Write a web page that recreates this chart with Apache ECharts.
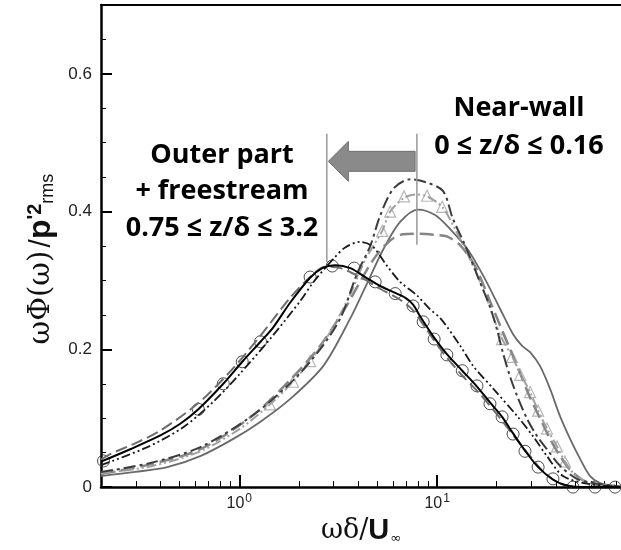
<!DOCTYPE html>
<html>
<head>
<meta charset="utf-8">
<script src="https://cdn.jsdelivr.net/npm/echarts@6/dist/echarts.min.js"></script>
<style>
  html, body { margin: 0; padding: 0; background: #fff; }
  #main { width: 621px; height: 550px; }
</style>
</head>
<body>
<div id="main"></div>
<script>
// [omega*delta/U, value] pairs
var outerSolid = [[0.2,0.037],[0.281,0.055],[0.399,0.075],[0.503,0.092],[0.621,0.113],[0.83,0.15],[1.035,0.182],[1.28,0.211],[1.485,0.232],[1.81,0.268],[2.28,0.304],[2.63,0.318],[3.05,0.322],[3.64,0.318],[4.33,0.305],[5.15,0.292],[6.14,0.282],[6.89,0.275],[7.56,0.265],[8.2,0.248],[9.66,0.217],[11.2,0.193],[13.4,0.169],[15.9,0.146],[18.5,0.123],[21.3,0.102],[24.2,0.078],[27.8,0.053],[32.4,0.029],[38.5,0.011],[44.3,0.003],[52.8,0],[84,0]];
var outerCircles = [[0.206,0.038],[0.621,0.113],[0.83,0.15],[1.035,0.182],[1.28,0.211],[2.28,0.305],[2.95,0.321],[3.81,0.318],[4.86,0.298],[6.14,0.281],[7.56,0.263],[8.5,0.24],[9.66,0.215],[11.2,0.192],[13.4,0.169],[15.9,0.147],[18.5,0.121],[21.3,0.102],[24.2,0.077],[27.8,0.052],[32.4,0.029],[38.5,0.012],[48.6,0],[62.8,0],[79.3,0]];
var outerDashDotDot = [[0.2,0.032],[0.343,0.058],[0.521,0.087],[0.739,0.124],[1.01,0.165],[1.43,0.215],[2.03,0.27],[2.36,0.297],[2.98,0.331],[3.43,0.348],[4.08,0.356],[4.7,0.35],[5.59,0.321],[6.5,0.298],[7.93,0.278],[9.22,0.258],[10.4,0.245],[13.1,0.205],[15.2,0.176],[19.2,0.143],[25.4,0.103],[30.5,0.074],[35.9,0.045],[43.3,0.016],[57.2,0.005],[84,0]];
var outerGrayDash = [[0.2,0.04],[0.223,0.048],[0.305,0.065],[0.399,0.082],[0.621,0.122],[0.901,0.168],[1.28,0.22],[1.81,0.275],[2.28,0.305],[2.72,0.32],[3.24,0.318],[4.08,0.305],[5.15,0.288],[6.5,0.272],[7.48,0.258],[8.7,0.232],[10.4,0.2],[13.1,0.165],[16.5,0.135],[20.8,0.1],[24.8,0.072],[29.5,0.045],[35.1,0.02],[41.8,0.005],[52.8,0],[84,0]];

var nearDashDot = [[0.2,0.022],[0.355,0.035],[0.635,0.058],[1.18,0.105],[1.87,0.155],[2.56,0.2],[3.24,0.245],[3.94,0.31],[4.59,0.35],[5.15,0.394],[6.0,0.433],[7.31,0.447],[8.7,0.443],[10.7,0.43],[12.0,0.39],[13.9,0.35],[16.5,0.297],[18.5,0.262],[20.1,0.228],[21.5,0.195],[23.4,0.16],[25.4,0.132],[28.5,0.099],[32.0,0.074],[35.9,0.055],[41.8,0.031],[50.9,0.012],[61.4,0.006],[84,0.001]];
var nearTriLine = [[0.2,0.02],[0.355,0.03],[0.635,0.052],[1.01,0.085],[1.43,0.12],[1.87,0.153],[2.28,0.183],[2.88,0.225],[3.64,0.28],[4.33,0.33],[5.28,0.372],[5.79,0.4],[6.81,0.42],[7.74,0.425],[8.9,0.422],[10.6,0.407],[12.3,0.375],[14.7,0.33],[17.5,0.28],[19.6,0.24],[21.3,0.215],[23.9,0.19],[26.3,0.165],[29.5,0.138],[32.4,0.111],[35.9,0.085],[40.4,0.059],[44.3,0.037],[49.8,0.018],[59.3,0.006],[84,0.001]];
var nearTriangles = [[1.43,0.12],[1.87,0.153],[2.28,0.183],[5.28,0.372],[5.79,0.4],[6.81,0.422],[8.9,0.423],[10.6,0.407],[21.3,0.215],[23.9,0.189],[26.3,0.163],[29.5,0.138],[32.4,0.111],[35.9,0.085],[40.4,0.059],[44.3,0.037]];
var nearSolid = [[0.2,0.016],[0.298,0.022],[0.433,0.029],[0.635,0.045],[0.933,0.07],[1.28,0.095],[1.81,0.128],[2.66,0.176],[3.64,0.245],[4.33,0.29],[5.34,0.345],[6.5,0.385],[8.02,0.403],[9.77,0.395],[11.6,0.375],[14.2,0.346],[17.1,0.307],[20.8,0.259],[24.2,0.222],[26.9,0.205],[29.5,0.196],[33.1,0.176],[37.2,0.143],[41.8,0.103],[47.0,0.07],[52.8,0.041],[59.3,0.016],[66.6,0.006],[79.3,0.002]];
var nearDash = [[0.2,0.019],[0.355,0.033],[0.635,0.055],[1.18,0.105],[1.87,0.16],[2.56,0.205],[3.43,0.26],[4.75,0.33],[5.79,0.358],[6.73,0.367],[8.2,0.368],[10.0,0.366],[11.2,0.364],[13.1,0.351],[15.6,0.32],[18.5,0.27],[20.8,0.235],[23.4,0.2],[26.3,0.165],[29.5,0.13],[33.1,0.1],[37.2,0.07],[41.8,0.045],[47.0,0.025],[55.9,0.008],[66.6,0.002]];

// annotation: vertical markers [x, yBottom, yTop] and arrow [from, to, y]
var markerLines = [[2.77,0.327,0.513],[7.9,0.352,0.513]];
var arrow = [[7.74,2.82,0.473]];

var xRange = [0.2, 85];
var xMajor = [1, 10];
var xMinor = [0.3,0.4,0.5,0.6,0.7,0.8,0.9,2,3,4,5,6,7,8,9,20,30,40,50,60,70,80];
var yMajor = [0, 0.2, 0.4, 0.6];

function lg(pts) {
  return pts.map(function (p) { return [Math.log10(p[0]), p[1]]; });
}

var chart = echarts.init(document.getElementById('main'));

function lineSeries(pts, color, width, type) {
  return {
    type: 'line', data: lg(pts), smooth: 0.3, symbol: 'none',
    lineStyle: { color: color, width: width, type: type }
  };
}

var verticals = markerLines.map(function (m) {
  return {
    type: 'line', symbol: 'none',
    data: [[Math.log10(m[0]), m[1]], [Math.log10(m[0]), m[2]]],
    lineStyle: { color: '#999', width: 1.5 }
  };
});

var annFont = 'bold 27px "Open Sans"';

var option = {
  animation: false,
  grid: { left: 101, right: 0, top: 5, bottom: 62 },
  xAxis: [
    {
      type: 'value', min: Math.log10(xRange[0]), max: Math.log10(xRange[1]),
      position: 'bottom',
      splitLine: { show: false },
      axisLine: { onZero: false, lineStyle: { color: '#000', width: 2.5 } },
      axisTick: { inside: true, length: 12, customValues: xMajor.map(Math.log10), lineStyle: { color: '#000', width: 2 } },
      axisLabel: {
        customValues: xMajor.map(Math.log10), margin: 6,
        formatter: function (v) { return '{b|10}{s|' + Math.round(v) + '}'; },
        rich: {
          b: { fontFamily: 'Liberation Sans', fontSize: 16, color: '#222' },
          s: { fontFamily: 'Liberation Sans', fontSize: 12, color: '#222', verticalAlign: 'top', padding: [0, 0, 8, 1] }
        }
      },
      name: '{g|ωδ/}{u|U}{i|∞}', nameLocation: 'middle', nameGap: 26,
      nameTextStyle: {
        rich: {
          g: { fontFamily: 'DejaVu Serif', fontSize: 27, color: '#111' },
          u: { fontFamily: 'Liberation Sans', fontWeight: 'bold', fontSize: 29, color: '#111' },
          i: { fontFamily: 'DejaVu Sans', fontSize: 13, color: '#111', verticalAlign: 'bottom', padding: [14, 0, 0, 1] }
        }
      }
    },
    {
      type: 'value', min: Math.log10(xRange[0]), max: Math.log10(xRange[1]),
      position: 'bottom', splitLine: { show: false },
      axisLine: { show: false, onZero: false }, axisLabel: { show: false },
      axisTick: { inside: true, length: 6, customValues: xMinor.map(Math.log10), lineStyle: { color: '#000', width: 1 } }
    },
    {
      type: 'value', min: Math.log10(xRange[0]), max: Math.log10(xRange[1]),
      position: 'top', splitLine: { show: false },
      axisLine: { onZero: false, lineStyle: { color: '#000', width: 2 } },
      axisTick: { show: false }, axisLabel: { show: false }
    }
  ],
  yAxis: [
    {
      type: 'value', min: 0, max: 0.7, position: 'left',
      splitLine: { show: false },
      axisLine: { show: true, onZero: false, lineStyle: { color: '#000', width: 2.5 } },
      axisTick: { show: true, inside: true, length: 11, customValues: yMajor, lineStyle: { color: '#000', width: 2 } },
      axisLabel: {
        customValues: yMajor, margin: 9,
        fontFamily: 'Liberation Sans', fontSize: 17, color: '#222',
        formatter: function (v) { return v === 0 ? '0' : v.toFixed(1); }
      },
      name: '{g|ωΦ(ω)} {s|/}{p|p}{sup|\'2}{sub|rms}', nameLocation: 'middle', nameRotate: 90, nameGap: 28,
      nameTextStyle: {
        rich: {
          g: { fontFamily: 'DejaVu Serif', fontSize: 29, color: '#111' },
          s: { fontFamily: 'Liberation Sans', fontSize: 30, color: '#111' },
          p: { fontFamily: 'Liberation Sans', fontWeight: 'bold', fontSize: 32, color: '#111' },
          sup: { fontFamily: 'Liberation Sans', fontWeight: 'bold', fontSize: 20, color: '#111', verticalAlign: 'top' },
          sub: { fontFamily: 'Liberation Sans', fontSize: 18, color: '#111', verticalAlign: 'bottom', padding: [13, 26, 0, 0] }
        }
      }
    },
    {
      type: 'value', min: 0, max: 0.7, interval: 0.05, position: 'left',
      splitLine: { show: false },
      axisLine: { show: false, onZero: false }, axisLabel: { show: false },
      axisTick: { show: true, inside: true, length: 5, lineStyle: { color: '#000', width: 1 } }
    }
  ],
  series: [
    lineSeries(nearSolid, '#6a6a6a', 1.8, 'solid'),
    lineSeries(nearDash, '#858585', 2.5, [14, 6]),
    lineSeries(nearTriLine, '#a0a0a0', 2, [10, 3, 2, 3, 2, 3]),
    {
      type: 'scatter', data: lg(nearTriangles), symbol: 'triangle', symbolSize: 11,
      itemStyle: { color: 'rgba(0,0,0,0)', borderColor: '#a5a5a5', borderWidth: 1.2 }
    },
    lineSeries(nearDashDot, '#3d3d3d', 2, [12, 4, 3, 4]),
    lineSeries(outerGrayDash, '#6e6e6e', 2, [12, 5]),
    lineSeries(outerDashDotDot, '#1a1a1a', 1.8, [9, 3, 2, 3, 2, 3]),
    lineSeries(outerSolid, '#000', 2, 'solid'),
    {
      type: 'scatter', data: lg(outerCircles), symbol: 'circle', symbolSize: 12,
      itemStyle: { color: 'rgba(0,0,0,0)', borderColor: '#222', borderWidth: 1 }
    }
  ].concat(verticals).concat([
    {
      type: 'custom',
      data: arrow.map(function (a) { return [Math.log10(a[0]), Math.log10(a[1]), a[2]]; }),
      renderItem: function (params, api) {
        var tail = api.coord([api.value(0), api.value(2)]);
        var tip = api.coord([api.value(1), api.value(2)]);
        var y = tail[1], hb = tip[0] + 20;
        return {
          type: 'polygon',
          shape: { points: [[tail[0], y - 10], [hb, y - 10], [hb, y - 20], [tip[0], y], [hb, y + 20], [hb, y + 10], [tail[0], y + 10]] },
          style: { fill: '#8a8a8a', stroke: '#6f6f6f', lineWidth: 1 }
        };
      }
    }
  ]),
  graphic: [
    { type: 'text', x: 519, y: 108, style: { text: 'Near-wall', font: annFont, align: 'center', verticalAlign: 'middle', fill: '#000' } },
    { type: 'text', x: 519, y: 146, style: { text: '0 ≤ z/δ ≤ 0.16', font: annFont, align: 'center', verticalAlign: 'middle', fill: '#000' } },
    { type: 'text', x: 222, y: 155, style: { text: 'Outer part', font: annFont, align: 'center', verticalAlign: 'middle', fill: '#000' } },
    { type: 'text', x: 222, y: 191, style: { text: '+ freestream', font: annFont, align: 'center', verticalAlign: 'middle', fill: '#000' } },
    { type: 'text', x: 222, y: 228, style: { text: '0.75 ≤ z/δ ≤ 3.2', font: annFont, align: 'center', verticalAlign: 'middle', fill: '#000' } }
  ]
};

chart.setOption(option);
</script>
</body>
</html>
